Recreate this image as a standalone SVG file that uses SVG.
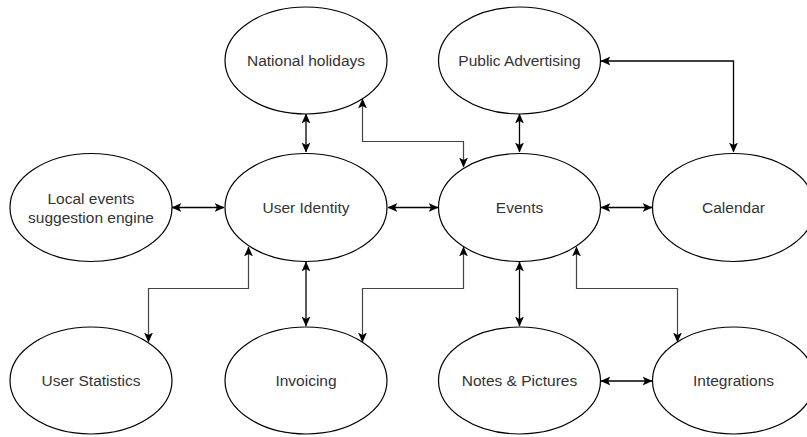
<svg xmlns="http://www.w3.org/2000/svg" width="807" height="437" viewBox="0 0 807 437">
<defs>
<style>
.node ellipse{fill:#fff;stroke:#000;stroke-width:1.2}
.node text{font-family:"Liberation Sans",Arial,sans-serif;font-size:15.5px;fill:#333;text-anchor:middle;dominant-baseline:central}
.edge{fill:none;stroke:#000;stroke-width:1.3;marker-start:url(#ah);marker-end:url(#ah)}
.elbow{stroke:#444;stroke-width:1.2}
</style>
<marker id="ah" markerUnits="userSpaceOnUse" markerWidth="10" markerHeight="10" viewBox="0 0 9 8" refX="8.5" refY="4" orient="auto-start-reverse">
<path d="M0,0 L9,4 L0,8 L2.2,4 z" fill="#000"/>
</marker>
</defs>
<rect width="807" height="437" fill="#fff"/>
<g id="connectors">
<path class="edge" d="M306,114 V152"/>
<path class="edge" d="M519.5,114 V152"/>
<path class="edge elbow" d="M362.5,99 V141.5 H463.5 V167"/>
<path class="edge" d="M601,61 H733.5 V152"/>
<path class="edge" d="M172,207.5 H224"/>
<path class="edge" d="M388,207.5 H438"/>
<path class="edge" d="M601,207.5 H652"/>
<path class="edge elbow" d="M248.5,247 V288.5 H148.5 V342"/>
<path class="edge" d="M306,262 V326"/>
<path class="edge elbow" d="M463.5,247 V288.5 H362.5 V342"/>
<path class="edge" d="M519.5,262 V326"/>
<path class="edge elbow" d="M576.5,247 V288.5 H677.5 V342"/>
<path class="edge" d="M601,381 H652"/>
</g>
<g id="national-holidays" class="node"><ellipse cx="306" cy="60.5" rx="81" ry="53.5"/><text x="306" y="60.5">National holidays</text></g>
<g id="public-advertising" class="node"><ellipse cx="519.5" cy="60.5" rx="81" ry="53.5"/><text x="519.5" y="60.5">Public Advertising</text></g>
<g id="local-events" class="node"><ellipse cx="91" cy="207.5" rx="81" ry="54"/><text x="91" y="198.5">Local events</text><text x="91" y="217">suggestion engine</text></g>
<g id="user-identity" class="node"><ellipse cx="306" cy="207.5" rx="81" ry="54"/><text x="306" y="207.5">User Identity</text></g>
<g id="events" class="node"><ellipse cx="519.5" cy="207.5" rx="81" ry="54"/><text x="519.5" y="207.5">Events</text></g>
<g id="calendar" class="node"><ellipse cx="733.5" cy="207.5" rx="81" ry="54"/><text x="733.5" y="207.5">Calendar</text></g>
<g id="user-statistics" class="node"><ellipse cx="91" cy="380.5" rx="81" ry="53.5"/><text x="91" y="380.5">User Statistics</text></g>
<g id="invoicing" class="node"><ellipse cx="306" cy="380.5" rx="81" ry="53.5"/><text x="306" y="380.5">Invoicing</text></g>
<g id="notes-pictures" class="node"><ellipse cx="519.5" cy="380.5" rx="81" ry="53.5"/><text x="519.5" y="380.5">Notes &amp; Pictures</text></g>
<g id="integrations" class="node"><ellipse cx="733.5" cy="380.5" rx="81" ry="53.5"/><text x="733.5" y="380.5">Integrations</text></g>
</svg>
